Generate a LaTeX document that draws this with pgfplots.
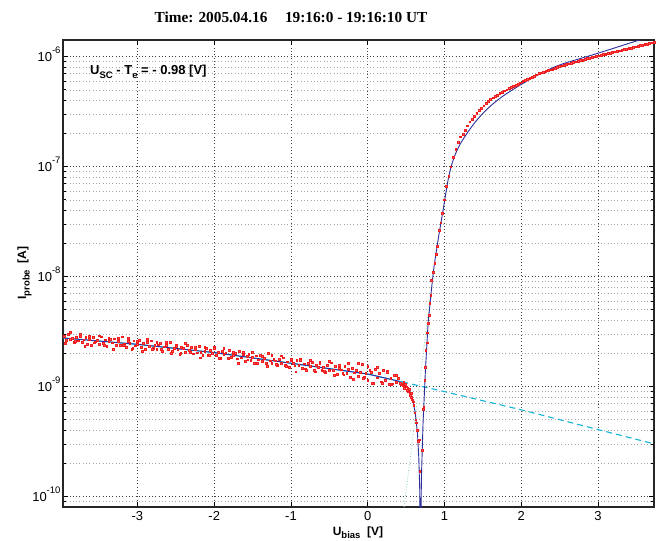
\documentclass[border=0pt]{standalone}
\usepackage{fontspec}
\setmainfont{Liberation Sans}
\newfontfamily\timesfont{Liberation Serif}
\usepackage{pgfplots}
\pgfplotsset{compat=1.18}
\definecolor{fitblue}{RGB}{45,45,155}
\definecolor{ioncyan}{RGB}{20,180,215}
\definecolor{ptred}{RGB}{240,30,30}
\definecolor{retgreen}{RGB}{140,215,170}
\newcommand{\ex}[1]{10\raisebox{0.62em}{\fontsize{9.5}{10}\selectfont #1}}
\newcommand{\sub}[1]{\raisebox{-0.3em}{\fontsize{9.5}{10}\selectfont #1}}
\begin{document}
\begin{tikzpicture}
\useasboundingbox (-63pt,-34pt) rectangle (596pt,507pt);
\begin{axis}[
  at={(0pt,0pt)}, anchor=south west,
  scale only axis, width=591pt, height=467pt,
  xmin=-3.97, xmax=3.73,
  ymode=log, log basis y=10, ymin=8.05e-11, ymax=1.419e-6,
  xtick={-3,-2,-1,0,1,2,3}, xticklabels={-3,-2,-1,0,1,2,3},
  ytick={1e-10,1e-9,1e-8,1e-7,1e-6},
  yticklabels={\ex{-10},\ex{-9},\ex{-8},\ex{-7},\ex{-6}},
  minor ytick={9e-11,2e-10,3e-10,4e-10,5e-10,6e-10,7e-10,8e-10,9e-10,2e-9,3e-9,4e-9,5e-9,6e-9,7e-9,8e-9,9e-9,2e-8,3e-8,4e-8,5e-8,6e-8,7e-8,8e-8,9e-8,2e-7,3e-7,4e-7,5e-7,6e-7,7e-7,8e-7,9e-7},
  xmajorgrids, ymajorgrids, yminorgrids,
  major grid style={dash pattern=on 0.7pt off 2.6pt, black!75, line width=0.6pt},
  minor grid style={dash pattern=on 0.7pt off 2.6pt, black!35, line width=0.6pt},
  tick align=inside, major tick length=5pt, minor tick length=3pt,
  tick style={black, line width=0.8pt},
  axis line style={black!85, line width=1.1pt},
  ticklabel style={font=\fontsize{13}{15}\selectfont},
  xticklabel style={yshift=-1pt},
  yticklabel style={anchor=base east, yshift=-4.6pt, xshift=1pt},
]
% measured probe current
\addplot[only marks, mark=square*, mark size=0.9pt, mark options={draw=ptred, fill=ptred!70!white, line width=0.4pt}] coordinates {
(-3.95,2.898e-9) (-3.925,2.642e-9) (-3.9,2.991e-9) (-3.875,2.707e-9) (-3.85,2.780e-9) (-3.825,2.526e-9) (-3.8,2.814e-9) (-3.775,2.616e-9) (-3.75,3.011e-9) (-3.725,2.544e-9)
(-3.7,2.669e-9) (-3.675,2.820e-9) (-3.65,2.439e-9) (-3.625,2.721e-9) (-3.6,2.370e-9) (-3.575,2.808e-9) (-3.55,2.563e-9) (-3.525,2.632e-9) (-3.5,2.441e-9) (-3.475,2.847e-9)
(-3.45,2.503e-9) (-3.425,2.674e-9) (-3.4,2.331e-9) (-3.375,2.604e-9) (-3.35,2.698e-9) (-3.325,2.511e-9) (-3.3,2.729e-9) (-3.275,2.368e-9) (-3.25,2.585e-9) (-3.225,2.402e-9)
(-3.2,2.842e-9) (-3.175,2.435e-9) (-3.15,2.303e-9) (-3.125,2.591e-9) (-3.1,2.484e-9) (-3.075,2.181e-9) (-3.05,2.614e-9) (-3.025,2.362e-9) (-3.0,2.427e-9) (-2.975,2.635e-9)
(-2.95,2.286e-9) (-2.925,2.468e-9) (-2.9,2.194e-9) (-2.875,2.518e-9) (-2.85,2.318e-9) (-2.825,2.613e-9) (-2.8,2.250e-9) (-2.775,2.381e-9) (-2.75,2.185e-9) (-2.725,2.407e-9)
(-2.7,2.488e-9) (-2.675,2.088e-9) (-2.65,2.308e-9) (-2.625,2.389e-9) (-2.6,2.197e-9) (-2.575,2.548e-9) (-2.55,2.111e-9) (-2.525,2.236e-9) (-2.5,2.382e-9) (-2.475,2.173e-9)
(-2.45,1.986e-9) (-2.425,2.286e-9) (-2.4,2.232e-9) (-2.375,2.070e-9) (-2.35,2.364e-9) (-2.325,2.138e-9) (-2.3,2.279e-9) (-2.275,1.991e-9) (-2.25,2.196e-9) (-2.225,2.037e-9)
(-2.2,2.324e-9) (-2.175,2.041e-9) (-2.15,1.928e-9) (-2.125,2.108e-9) (-2.1,2.223e-9) (-2.075,1.945e-9) (-2.05,2.142e-9) (-2.025,2.010e-9) (-2.0,2.287e-9) (-1.975,1.929e-9)
(-1.95,2.060e-9) (-1.925,1.827e-9) (-1.9,2.117e-9) (-1.875,1.966e-9) (-1.85,2.034e-9) (-1.825,1.827e-9) (-1.8,2.129e-9) (-1.775,1.864e-9) (-1.75,1.932e-9) (-1.725,2.017e-9)
(-1.7,1.795e-9) (-1.675,2.108e-9) (-1.65,1.832e-9) (-1.625,1.953e-9) (-1.6,1.718e-9) (-1.575,1.894e-9) (-1.55,1.976e-9) (-1.525,1.744e-9) (-1.5,1.844e-9) (-1.475,1.634e-9)
(-1.45,1.914e-9) (-1.425,1.760e-9) (-1.4,1.947e-9) (-1.375,1.705e-9) (-1.35,1.819e-9) (-1.325,1.633e-9) (-1.3,2.008e-9) (-1.275,1.720e-9) (-1.25,1.623e-9) (-1.225,1.787e-9)
(-1.2,1.725e-9) (-1.175,1.563e-9) (-1.15,1.773e-9) (-1.125,1.630e-9) (-1.1,1.837e-9) (-1.075,1.578e-9) (-1.05,1.685e-9) (-1.025,1.494e-9) (-1.0,1.747e-9) (-0.975,1.624e-9)
(-0.95,1.550e-9) (-0.925,1.733e-9) (-0.9,1.564e-9) (-0.875,1.777e-9) (-0.85,1.484e-9) (-0.825,1.617e-9) (-0.8,1.405e-9) (-0.775,1.630e-9) (-0.75,1.529e-9) (-0.725,1.673e-9)
(-0.7,1.419e-9) (-0.675,1.579e-9) (-0.65,1.509e-9) (-0.625,1.666e-9) (-0.6,1.417e-9) (-0.575,1.514e-9) (-0.55,1.358e-9) (-0.525,1.555e-9) (-0.5,1.415e-9) (-0.475,1.654e-9)
(-0.45,1.414e-9) (-0.425,1.534e-9) (-0.4,1.298e-9) (-0.375,1.461e-9) (-0.35,1.424e-9) (-0.325,1.318e-9) (-0.3,1.533e-9) (-0.275,1.331e-9) (-0.25,1.448e-9) (-0.225,1.220e-9)
(-0.2,1.472e-9) (-0.175,1.342e-9) (-0.15,1.402e-9) (-0.125,1.247e-9) (-0.1,1.360e-9) (-0.075,1.591e-9) (-0.05,1.213e-9) (-0.025,1.324e-9) (0.0,1.147e-9) (0.025,1.407e-9)
(0.05,1.344e-9) (0.075,1.078e-9) (0.1,1.432e-9) (0.125,1.208e-9) (0.15,1.333e-9) (0.175,1.112e-9) (0.2,1.405e-9) (0.225,1.140e-9) (0.25,1.379e-9) (0.275,1.060e-9)
(0.3,1.202e-9) (0.325,1.064e-9) (0.35,1.261e-9) (0.375,1.090e-9) (0.4,1.193e-9) (0.425,1.081e-9) (0.45,1.049e-9)
(-3.9375,2.501e-9) (-3.875,3.144e-9) (-3.8125,2.575e-9) (-3.75,2.876e-9) (-3.6875,2.344e-9) (-3.625,2.880e-9) (-3.5625,2.514e-9) (-3.5,2.909e-9) (-3.4375,2.395e-9) (-3.375,2.757e-9)
(-3.3125,2.202e-9) (-3.25,2.761e-9) (-3.1875,2.365e-9) (-3.125,2.739e-9) (-3.0625,2.227e-9) (-3.0,2.573e-9) (-2.9375,2.113e-9) (-2.875,2.684e-9) (-2.8125,2.208e-9) (-2.75,2.533e-9)
(-2.6875,2.207e-9) (-2.625,2.548e-9) (-2.5625,2.003e-9) (-2.5,2.337e-9) (-2.4375,2.027e-9) (-2.375,2.484e-9) (-2.3125,2.047e-9) (-2.25,2.303e-9) (-2.1875,1.835e-9) (-2.125,2.296e-9)
(-2.0625,1.940e-9) (-2.0,2.226e-9) (-1.9375,1.813e-9) (-1.875,2.244e-9) (-1.8125,1.822e-9) (-1.75,2.048e-9) (-1.6875,1.638e-9) (-1.625,2.066e-9) (-1.5625,1.759e-9) (-1.5,2.045e-9)
(-1.4375,1.639e-9) (-1.375,1.900e-9) (-1.3125,1.541e-9) (-1.25,1.917e-9) (-1.1875,1.601e-9) (-1.125,1.915e-9) (-1.0625,1.524e-9) (-1.0,1.780e-9) (-0.9375,1.369e-9) (-0.875,1.746e-9)
(-0.8125,1.455e-9) (-0.75,1.745e-9) (-0.6875,1.370e-9) (-0.625,1.621e-9) (-0.5625,1.391e-9) (-0.5,1.692e-9) (-0.4375,1.265e-9) (-0.375,1.574e-9) (-0.3125,1.286e-9) (-0.25,1.627e-9)
(-0.1875,1.169e-9) (-0.125,1.636e-9) (-0.0625,1.190e-9) (0.0,1.525e-9) (0.0625,1.070e-9) (0.125,1.494e-9) (0.1875,1.071e-9) (0.25,1.355e-9) (0.3125,1.057e-9) (0.375,1.271e-9) (0.4375,1.042e-9)
(0.46,1.02e-9) (0.47,1.09e-9) (0.48,0.97e-9) (0.49,1.06e-9) (0.50,1.00e-9) (0.51,0.93e-9) (0.52,0.98e-9) (0.53,0.90e-9) (0.54,0.95e-9) (0.548,0.86e-9)
(0.555,0.84e-9) (0.565,0.80e-9) (0.57,0.87e-9) (0.58,0.76e-9) (0.59,0.73e-9) (0.60,0.68e-9) (0.613,0.58e-9) (0.626,0.50e-9) (0.635,0.47e-9) (0.645,0.40e-9)
(0.656,0.32e-9) (0.669,0.33e-9) (0.678,0.17e-9)
(0.713,0.266e-9) (0.721,0.62e-9) (0.73,0.65e-9) (0.743,1.15e-9) (0.752,1.51e-9) (0.756,2.16e-9) (0.77,2.51e-9) (0.774,3.09e-9) (0.787,3.8e-9) (0.804,4.47e-9)
(0.808,5.75e-9) (0.821,6.76e-9) (0.83,9.33e-9) (0.85,1.10e-8) (0.874,1.33e-8) (0.89,1.6e-8) (0.908,1.88e-8) (0.93,2.63e-8) (0.95,3.1e-8) (0.969,3.80e-8)
(0.995,5.01e-8) (1.026,6.61e-8) (1.056,8.22e-8) (1.082,1.0e-7) (1.112,1.23e-7) (1.147,1.445e-7) (1.177,1.66e-7) (1.209,1.876e-7)
(1.24,1.977e-7) (1.27,2.158e-7) (1.30,2.355e-7) (1.33,2.570e-7) (1.36,2.723e-7) (1.39,2.891e-7) (1.42,3.062e-7) (1.45,3.251e-7) (1.48,3.420e-7) (1.51,3.589e-7)
(1.54,3.758e-7) (1.57,3.945e-7) (1.60,4.111e-7) (1.63,4.236e-7) (1.66,4.365e-7) (1.69,4.498e-7) (1.72,4.634e-7) (1.75,4.775e-7) (1.78,4.909e-7) (1.81,5.023e-7)
(1.84,5.140e-7) (1.87,5.272e-7) (1.90,5.395e-7) (1.93,5.534e-7) (1.96,5.662e-7) (1.99,5.794e-7) (2.02,5.943e-7) (2.05,6.081e-7) (2.08,6.223e-7) (2.11,6.383e-7)
(2.14,6.531e-7) (2.17,6.699e-7) (2.20,6.855e-7) (2.23,7.031e-7) (2.26,7.161e-7) (2.29,7.278e-7) (2.32,7.396e-7) (2.35,7.516e-7) (2.38,7.638e-7) (2.41,7.762e-7)
(2.44,7.889e-7) (2.47,8.017e-7) (2.50,8.147e-7) (2.53,8.279e-7) (2.56,8.395e-7) (2.59,8.511e-7) (2.62,8.630e-7) (2.65,8.770e-7) (2.68,8.892e-7) (2.71,9.016e-7)
(2.74,9.141e-7) (2.77,9.268e-7) (2.80,9.376e-7) (2.83,9.506e-7) (2.86,9.616e-7) (2.89,9.750e-7) (2.92,9.863e-7) (2.95,1.000e-6) (2.98,1.012e-6) (3.01,1.023e-6)
(3.04,1.035e-6) (3.07,1.047e-6) (3.10,1.059e-6) (3.13,1.072e-6) (3.16,1.084e-6) (3.19,1.096e-6) (3.22,1.109e-6) (3.25,1.122e-6) (3.28,1.135e-6) (3.31,1.148e-6)
(3.34,1.161e-6) (3.37,1.175e-6) (3.40,1.189e-6) (3.43,1.202e-6) (3.46,1.216e-6) (3.49,1.233e-6) (3.52,1.247e-6) (3.55,1.265e-6) (3.58,1.279e-6) (3.61,1.294e-6)
(3.64,1.309e-6) (3.67,1.327e-6) (3.70,1.343e-6) (3.73,1.361e-6)
};
% ion current fit
\addplot[ioncyan, line width=1.1pt] coordinates {(-3.97,2.773e-9) (-3,2.427e-9) (-2,2.042e-9) (-1,1.633e-9) (0,1.303e-9) (0.45,1.104e-9)};
\addplot[ioncyan, line width=1.1pt, dash pattern=on 6pt off 4pt] coordinates {(0.45,1.104e-9) (1,0.9016e-9) (1.5,0.7456e-9) (2,0.6166e-9) (2.5,0.5012e-9) (3,0.4074e-9) (3.4,0.3459e-9) (3.73,0.302e-9)};
% electron retardation
\addplot[retgreen, line width=0.9pt, dash pattern=on 0.8pt off 2pt] coordinates {(0.47,7.6e-11) (0.82,7.1e-9)};
% total fit
\addplot[fitblue, line width=0.9pt] coordinates {
(-3.97,2.773e-9) (-3,2.427e-9) (-2,2.042e-9) (-1,1.633e-9) (0,1.303e-9) (0.37,1.137e-9) (0.45,1.076e-9) (0.5,1.023e-9) (0.55,0.891e-9) (0.59,0.741e-9)
(0.62,0.575e-9) (0.648,0.380e-9) (0.665,0.231e-9) (0.678,0.115e-9) (0.684,3e-11) (0.686,1e-12)
(0.688,1e-12) (0.692,5e-11) (0.70,0.151e-9) (0.721,0.468e-9) (0.752,1.413e-9) (0.787,3.80e-9) (0.83,7.59e-9)
};
\addplot[fitblue, line width=0.9pt, smooth, tension=0.5] coordinates {
(0.83,7.59e-9) (0.864,1.230e-8) (0.917,2.158e-8) (0.982,4.036e-8) (1.047,7.568e-8) (1.091,1.023e-7) (1.14,1.288e-7) (1.2,1.585e-7)
(1.3,2.042e-7) (1.4,2.541e-7) (1.5,3.055e-7) (1.6,3.565e-7) (1.7,4.074e-7) (1.8,4.571e-7) (1.9,5.070e-7) (2.0,5.598e-7)
(2.2,6.730e-7) (2.5,8.414e-7) (3.0,1.076e-6) (3.5,1.390e-6) (3.73,1.549e-6)
};
\end{axis}
\node[anchor=base, font=\timesfont\bfseries\fontsize{15.3}{18}\selectfont] at (228pt,484pt) {Time: 2005.04.16\hspace{0.9em} 19:16:0 - 19:16:10 UT};
\node[anchor=base west, font=\bfseries\fontsize{13}{15}\selectfont, inner sep=0pt] at (27pt,432pt) {U\sub{SC} - T\sub{e} = - 0.98 [V]};
\node[anchor=base, font=\bfseries\fontsize{12}{14}\selectfont] at (295pt,-28pt) {U\sub{bias}\ \ [V]};
\node[anchor=base, rotate=90, font=\bfseries\fontsize{12}{14}\selectfont] at (-37pt,234pt) {I\sub{probe}\ \ [A]};
\end{tikzpicture}
\end{document}
